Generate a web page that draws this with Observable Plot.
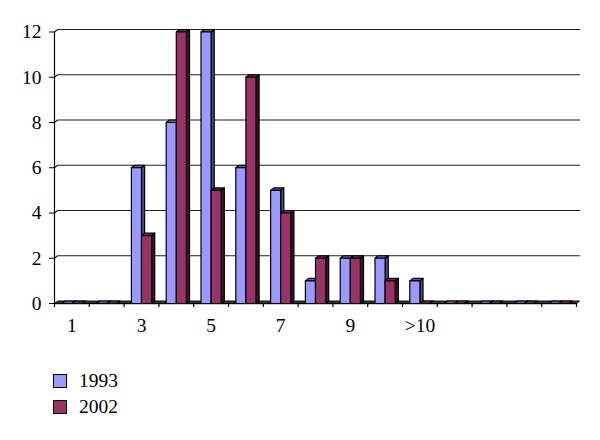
<!DOCTYPE html>
<html>
<head>
<meta charset="utf-8">
<script src="https://cdn.jsdelivr.net/npm/d3@7"></script>
<script src="https://cdn.jsdelivr.net/npm/@observablehq/plot@0.6"></script>
<style>
  html, body { margin: 0; padding: 0; background: #fff; }
  body { width: 600px; color: #000; font-family: "Liberation Serif", serif; }
  #legend { padding: 28px 0 0 53px; font-size: 19.5px; }
  .row { display: flex; align-items: center; height: 26px; }
  .sw { width: 12px; height: 12px; border: 1px solid #000; margin-right: 12px; box-sizing: content-box; }
</style>
</head>
<body>
<div id="chart"></div>
<div id="legend"></div>
<script>
const categories = [1, 2, 3, 4, 5, 6, 7, 8, 9, 10, 11, 12, 13, 14, 15];
const tickLabels = ["1", "", "3", "", "5", "", "7", "", "9", "", ">10", "", "", "", ""];
const series1993 = [0, 0, 6, 8, 12, 6, 5, 1, 2, 2, 1, 0, 0, 0, 0];
const series2002 = [0, 0, 3, 12, 5, 10, 4, 2, 2, 1, 0, 0, 0, 0, 0];
const yTicks = [0, 2, 4, 6, 8, 10, 12];

const styles = [
  {name: "1993", values: series1993, front: "#9999ff", side: "#4d4d80", top: "#5f5fa8", from: 0.21, to: 0.5},
  {name: "2002", values: series2002, front: "#993366", side: "#3d1528", top: "#6e2549", from: 0.5, to: 0.79}
];
const depthX = 0.09, depthY = 0.11;

const faces = [];
let id = 0;
function face(fill, pts) {
  id++;
  for (const [x, y] of pts) faces.push({id, fill, x, y});
}
categories.forEach((c, i) => {
  for (const s of styles) {
    const x0 = c - 1 + s.from, x1 = c - 1 + s.to, v = s.values[i];
    face(s.side, [[x1, 0], [x1 + depthX, depthY], [x1 + depthX, v + depthY], [x1, v]]);
    face(s.top, [[x0, v], [x0 + depthX, v + depthY], [x1 + depthX, v + depthY], [x1, v]]);
    face(s.front, [[x0, 0], [x0, v], [x1, v], [x1, 0]]);
  }
});

const last = categories.length;
const wall = yTicks.filter(v => v > 0).flatMap(v => [
  {v, x: 0, y: v},
  {v, x: depthX, y: v + depthY},
  {v, x: last + depthX, y: v + depthY}
]);
const floor = [
  {x: 0, y: 0}, {x: depthX, y: depthY}, {x: last + depthX, y: depthY}, {x: last, y: 0}
];

const chart = Plot.plot({
  width: 600,
  height: 340,
  marginLeft: 54,
  marginRight: 24,
  marginTop: 31.5,
  marginBottom: 37,
  style: {background: "#fff", color: "#000", fontFamily: "'Liberation Serif', serif", overflow: "visible"},
  x: {domain: [0, last], range: [54, 576]},
  y: {domain: [0, 12], range: [303, 31.5]},
  marks: [
    Plot.line(wall, {x: "x", y: "y", z: "v", stroke: "#222", strokeWidth: 1.2}),
    Plot.line(floor, {x: "x", y: "y", fill: "#333", stroke: "#111", strokeWidth: 1, curve: "linear-closed"}),
    Plot.line(faces, {
      x: "x", y: "y", z: "id",
      fill: {value: d => d.fill, scale: null},
      stroke: "#000", strokeWidth: 1.2, curve: "linear-closed"
    }),
    Plot.ruleX([0], {y1: 0, y2: 12, stroke: "#000", strokeWidth: 1.2}),
    Plot.ruleY([0], {stroke: "#000", strokeWidth: 1.2}),
    Plot.axisY({ticks: yTicks, tickSize: 5, tickPadding: 8, fontSize: 19.5, label: null, tickFormat: d => d}),
    Plot.axisX({ticks: d3.range(0, last + 1), tickSize: 4, strokeWidth: 1.2, tickFormat: () => "", label: null}),
    Plot.axisX({
      ticks: categories.map(c => c - 0.5),
      tickSize: 0, tickPadding: 15, fontSize: 19.5, label: null,
      tickFormat: d => tickLabels[Math.round(d + 0.5) - 1]
    })
  ]
});
document.getElementById("chart").appendChild(chart);

const legend = d3.select("#legend");
for (const s of styles) {
  const row = legend.append("div").attr("class", "row");
  row.append("span").attr("class", "sw").style("background", s.front);
  row.append("span").text(s.name);
}
</script>
</body>
</html>
